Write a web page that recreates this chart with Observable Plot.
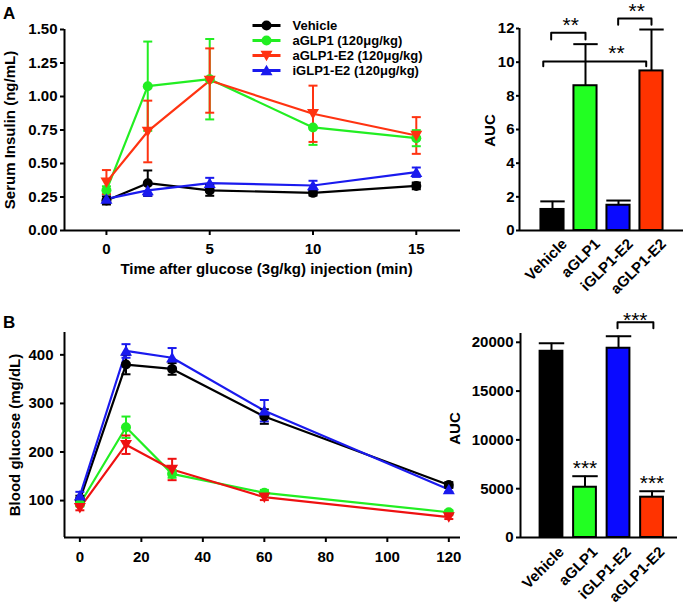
<!DOCTYPE html>
<html><head><meta charset="utf-8">
<script src="https://cdn.jsdelivr.net/npm/d3@7"></script>
<script src="https://cdn.jsdelivr.net/npm/@observablehq/plot@0.6"></script>
<style>
body{margin:0;background:#fff;}
#fig{position:relative;width:685px;height:602px;overflow:hidden;font-family:"Liberation Sans",Arial,sans-serif;}
.panel{position:absolute;font-weight:bold;font-size:17px;line-height:17px;}
</style></head><body><div id="fig"><div class="panel" style="left:3px;top:5px">A</div><div class="panel" style="left:3px;top:314px">B</div></div>
<script>
// ---------- data ----------
const keys = ["Vehicle", "aGLP1", "aGLP1-E2", "iGLP1-E2"];
const legendLabels = ["Vehicle", "aGLP1 (120μg/kg)", "aGLP1-E2 (120μg/kg)", "iGLP1-E2 (120μg/kg)"];
const lineColorsA = ["#000000", "#22ee22", "#ff3311", "#1a1aee"];
const lineColorsB = ["#000000", "#22ee22", "#ee1111", "#1a1aee"];

const timeA = [0, 2, 5, 10, 15];
const insulinVehicle = [0.224, 0.353, 0.299, 0.281, 0.333];
const insulinVehicleSEM = [0.03, 0.095, 0.04, 0.02, 0.025];
const insulinAGLP1 = [0.30, 1.077, 1.129, 0.769, 0.689];
const insulinAGLP1SEM = [0.03, 0.333, 0.30, 0.13, 0.06];
const insulinAGLP1E2 = [0.361, 0.739, 1.119, 0.871, 0.709];
const insulinAGLP1E2SEM = [0.09, 0.23, 0.24, 0.21, 0.137];
const insulinIGLP1E2 = [0.236, 0.299, 0.353, 0.336, 0.435];
const insulinIGLP1E2SEM = [0.03, 0.04, 0.04, 0.035, 0.035];

const timeB = [0, 15, 30, 60, 120];
const glucoseVehicle = [102, 380, 371, 273, 132];
const glucoseVehicleSEM = [8, 20, 12, 15, 6];
const glucoseAGLP1 = [93, 251, 155, 116, 76];
const glucoseAGLP1SEM = [5, 22, 8, 6, 4];
const glucoseAGLP1E2 = [85, 215, 164, 107, 66];
const glucoseAGLP1E2SEM = [5, 19, 22, 6, 4];
const glucoseIGLP1E2 = [110, 408, 394, 285, 123];
const glucoseIGLP1E2SEM = [8, 14, 20, 22, 5];

const groups = ["Vehicle", "aGLP1", "iGLP1-E2", "aGLP1-E2"];
const barColors = ["#000000", "#22ff22", "#0a0aff", "#ff3300"];
const aucInsulin = [1.25, 8.6, 1.5, 9.48];
const aucInsulinSEM = [0.48, 2.47, 0.28, 2.46];
const aucGlucose = [19080, 5150, 19390, 4130];
const aucGlucoseSEM = [820, 1130, 1230, 610];

const ticksInsulin = [0, 0.25, 0.5, 0.75, 1, 1.25, 1.5];
const ticksTimeA = [0, 5, 10, 15];
const ticksAucA = [0, 2, 4, 6, 8, 10, 12];
const ticksGlucose = [100, 200, 300, 400];
const ticksTimeB = [0, 20, 40, 60, 80, 100, 120];
const ticksAucB = [0, 5000, 10000, 15000, 20000];

// significance annotations (x in bar index units, y in data units)
const bracketsA = [
  {x1: -0.04, x2: 1.0, y: 11.75, drop: 11.35},
  {x1: 1.99, x2: 3.0, y: 12.6, drop: 12.22},
  {x1: -0.28, x2: 2.84, y: 10.04, drop: 9.76}
];
const starsA = [
  {x: 0.55, y: 12.46, text: "**"},
  {x: 2.55, y: 13.3, text: "**"},
  {x: 1.94, y: 10.8, text: "**"}
];
const bracketsB = [{x1: 1.97, x2: 3.04, y: 22050, drop: 21440}];
const starsB = [
  {x: 1.0, y: 7590, text: "***"},
  {x: 3.0, y: 6100, text: "***"},
  {x: 2.5, y: 22770, text: "***"}
];

// ---------- helpers ----------
function longRows(times, vals, sems) {
  const rows = [];
  keys.forEach((k, i) => times.forEach((t, j) => rows.push({series: k, t, v: vals[i][j], e: sems[i][j]})));
  return rows;
}
const rowsA = longRows(timeA, [insulinVehicle, insulinAGLP1, insulinAGLP1E2, insulinIGLP1E2],
  [insulinVehicleSEM, insulinAGLP1SEM, insulinAGLP1E2SEM, insulinIGLP1E2SEM]);
const rowsB = longRows(timeB, [glucoseVehicle, glucoseAGLP1, glucoseAGLP1E2, glucoseIGLP1E2],
  [glucoseVehicleSEM, glucoseAGLP1SEM, glucoseAGLP1E2SEM, glucoseIGLP1E2SEM]);
const barsA = groups.map((g, i) => ({g, i, v: aucInsulin[i], e: aucInsulinSEM[i]}));
const barsB = groups.map((g, i) => ({g, i, v: aucGlucose[i], e: aucGlucoseSEM[i]}));
function bracketRows(br) {
  const out = [];
  br.forEach((b, k) => {
    out.push({k, x: b.x1, y: b.drop}, {k, x: b.x1, y: b.y}, {k, x: b.x2, y: b.y}, {k, x: b.x2, y: b.drop});
  });
  return out;
}

const triUp = {draw(ctx, size) { const r = Math.sqrt(size / Math.PI);
  ctx.moveTo(0, -1.15 * r); ctx.lineTo(1.2 * r, 0.95 * r); ctx.lineTo(-1.2 * r, 0.95 * r); ctx.closePath(); }};
const triDown = {draw(ctx, size) { const r = Math.sqrt(size / Math.PI);
  ctx.moveTo(0, 1.15 * r); ctx.lineTo(1.2 * r, -0.95 * r); ctx.lineTo(-1.2 * r, -0.95 * r); ctx.closePath(); }};
const hline = {draw(ctx, size) { const r = Math.sqrt(size / Math.PI); ctx.moveTo(-r, 0); ctx.lineTo(r, 0); }};
const symbolOf = {"Vehicle": "circle", "aGLP1": "circle", "aGLP1-E2": triDown, "iGLP1-E2": triUp};

const baseStyle = {fontFamily: '"Liberation Sans", Arial, sans-serif', fontSize: "15px", fontWeight: "bold",
  color: "black", background: "transparent", overflow: "visible"};

function seriesMarks(rows, r, cap) {
  return [
    Plot.line(rows, {x: "t", y: "v", z: "series", stroke: "series", strokeWidth: 2.2}),
    Plot.ruleX(rows, {x: "t", y1: d => d.v - d.e, y2: d => d.v + d.e, stroke: "series", strokeWidth: 2}),
    Plot.dot(rows, {x: "t", y: d => d.v + d.e, symbol: hline, r: cap, stroke: "series", strokeWidth: 2, fill: "none"}),
    Plot.dot(rows, {x: "t", y: d => d.v - d.e, symbol: hline, r: cap, stroke: "series", strokeWidth: 2, fill: "none"}),
    ...keys.map(k => Plot.dot(rows.filter(d => d.series === k),
      {x: "t", y: "v", r, symbol: symbolOf[k], fill: "series", stroke: "none"}))
  ];
}

const fig = document.getElementById("fig");
function place(el, left, top) {
  el.style.position = "absolute"; el.style.left = left + "px"; el.style.top = top + "px";
  fig.append(el);
}

// ---------- Panel A: insulin time course ----------
const xDomA = [-2.03, 17.14];
const yDomA = [0, 1.5];
place(Plot.plot({
  width: 470, height: 290, marginLeft: 64, marginRight: 10, marginTop: 29, marginBottom: 60,
  style: baseStyle,
  x: {domain: xDomA}, y: {domain: yDomA},
  color: {domain: keys, range: lineColorsA},
  marks: [
    Plot.ruleX([xDomA[0]], {strokeWidth: 2}),
    Plot.ruleY([yDomA[0]], {strokeWidth: 2}),
    Plot.axisY({ticks: ticksInsulin, tickFormat: d3.format(".2f"), tickSize: 4, tickPadding: 3, strokeWidth: 2, label: null}),
    Plot.axisX({ticks: ticksTimeA, tickFormat: d3.format("d"), tickSize: 5, tickPadding: 8, strokeWidth: 2, label: null}),
    Plot.text(["Serum Insulin (ng/mL)"], {frameAnchor: "left", textAnchor: "middle", lineAnchor: "middle", rotate: -90, dx: -54}),
    Plot.text(["Time after glucose (3g/kg) injection (min)"], {frameAnchor: "bottom", textAnchor: "middle", lineAnchor: "middle", dx: 4, dy: 39}),
    ...seriesMarks(rowsA, 5, 4.5)
  ]
}), 0, 0);

// legend
const legendRows = keys.map((k, i) => ({series: k, label: legendLabels[i]}));
place(Plot.plot({
  width: 200, height: 75, marginLeft: 12, marginRight: 160, marginTop: 14, marginBottom: 14,
  style: Object.assign({}, baseStyle, {fontSize: "13px"}),
  x: {domain: [0, 1], axis: null},
  y: {type: "point", domain: keys, padding: 0, axis: null},
  color: {domain: keys, range: lineColorsA},
  marks: [
    Plot.link(legendRows, {x1: () => 0, x2: () => 1, y1: "series", y2: "series", stroke: "series", strokeWidth: 3}),
    ...keys.map(k => Plot.dot(legendRows.filter(d => d.series === k),
      {x: () => 0.5, y: "series", r: 5, symbol: symbolOf[k], fill: "series", stroke: "none"})),
    Plot.text(legendRows, {x: () => 1, y: "series", text: "label", textAnchor: "start", dx: 12})
  ]
}), 240, 10);

// ---------- Panel A: AUC bars ----------
const xDomBarA = [-1.0, 3.97];
const yDomBarA = [0, 12];
place(Plot.plot({
  width: 215, height: 290, marginLeft: 49, marginRight: 2, marginTop: 28, marginBottom: 60,
  style: baseStyle,
  x: {domain: xDomBarA}, y: {domain: yDomBarA},
  color: {domain: groups, range: barColors},
  marks: [
    Plot.ruleX(barsA, {x: "i", y1: "v", y2: d => d.v + d.e, strokeWidth: 2}),
    Plot.link(barsA, {x1: d => d.i - 0.37, x2: d => d.i + 0.37, y1: d => d.v + d.e, y2: d => d.v + d.e, strokeWidth: 2}),
    Plot.rect(barsA, {x1: d => d.i - 0.35, x2: d => d.i + 0.35, y1: () => 0, y2: "v", fill: "g", stroke: "black", strokeWidth: 2}),
    Plot.ruleX([xDomBarA[0]], {strokeWidth: 2}),
    Plot.ruleY([yDomBarA[0]], {strokeWidth: 2}),
    Plot.axisY({ticks: ticksAucA, tickSize: 3, tickPadding: 2, strokeWidth: 2, label: null}),
    Plot.axisX({ticks: [0, 1, 2, 3], tickFormat: i => groups[i], tickRotate: -45, tickSize: 0, tickPadding: 11, dx: 12, label: null}),
    Plot.text(["AUC"], {frameAnchor: "left", textAnchor: "middle", lineAnchor: "middle", rotate: -90, dx: -29, dy: 1}),
    Plot.line(bracketRows(bracketsA), {x: "x", y: "y", z: "k", strokeWidth: 2}),
    Plot.text(starsA, {x: "x", y: "y", text: "text", fontSize: 21, fontWeight: "normal", dy: 5})
  ]
}), 470, 0);

// ---------- Panel B: glucose time course ----------
const xDomB = [-5, 123.8];
const yDomB = [24, 446];
place(Plot.plot({
  width: 470, height: 302, marginLeft: 64, marginRight: 10, marginTop: 32, marginBottom: 65,
  style: baseStyle,
  x: {domain: xDomB}, y: {domain: yDomB},
  color: {domain: keys, range: lineColorsB},
  marks: [
    Plot.ruleX([xDomB[0]], {strokeWidth: 2}),
    Plot.ruleY([yDomB[0]], {strokeWidth: 2}),
    Plot.axisY({ticks: ticksGlucose, tickSize: 4, tickPadding: 7, strokeWidth: 2, label: null}),
    Plot.axisX({ticks: ticksTimeB, tickFormat: d3.format("d"), tickSize: 5, tickPadding: 9, strokeWidth: 2, label: null}),
    Plot.text(["Blood glucose (mg/dL)"], {frameAnchor: "left", textAnchor: "middle", lineAnchor: "middle", rotate: -90, dx: -49}),
    ...seriesMarks(rowsB, 5, 4.5)
  ]
}), 0, 300);

// ---------- Panel B: AUC bars ----------
const xDomBarB = [-0.925, 3.76];
const yDomBarB = [0, 20900];
place(Plot.plot({
  width: 245, height: 302, marginLeft: 80, marginRight: 8, marginTop: 33, marginBottom: 65,
  style: baseStyle,
  x: {domain: xDomBarB}, y: {domain: yDomBarB},
  color: {domain: groups, range: barColors},
  marks: [
    Plot.ruleX(barsB, {x: "i", y1: "v", y2: d => d.v + d.e, strokeWidth: 2}),
    Plot.link(barsB, {x1: d => d.i - 0.38, x2: d => d.i + 0.38, y1: d => d.v + d.e, y2: d => d.v + d.e, strokeWidth: 2}),
    Plot.rect(barsB, {x1: d => d.i - 0.34, x2: d => d.i + 0.34, y1: () => 0, y2: "v", fill: "g", stroke: "black", strokeWidth: 2}),
    Plot.ruleX([xDomBarB[0]], {strokeWidth: 2}),
    Plot.ruleY([yDomBarB[0]], {strokeWidth: 2}),
    Plot.axisY({ticks: ticksAucB, tickFormat: d3.format("d"), tickSize: 4, tickPadding: 3, strokeWidth: 2, label: null}),
    Plot.axisX({ticks: [0, 1, 2, 3], tickFormat: i => groups[i], tickRotate: -45, tickSize: 0, tickPadding: 12, dx: 10, label: null}),
    Plot.text(["AUC"], {frameAnchor: "left", textAnchor: "middle", lineAnchor: "middle", rotate: -90, dx: -65, dy: -7}),
    Plot.line(bracketRows(bracketsB), {x: "x", y: "y", z: "k", strokeWidth: 2}),
    Plot.text(starsB, {x: "x", y: "y", text: "text", fontSize: 21, fontWeight: "normal", dy: 5})
  ]
}), 440, 300);
</script></body></html>
